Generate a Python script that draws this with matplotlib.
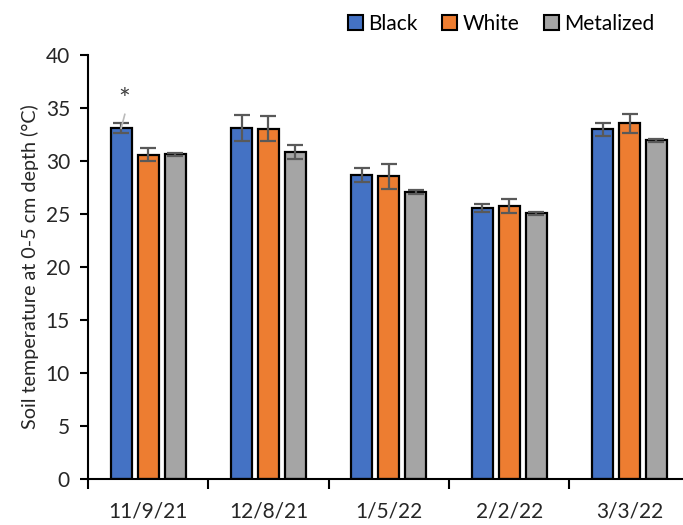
import numpy as np
from matplotlib import pyplot as plt
from matplotlib.patches import Patch
from matplotlib.ticker import FixedLocator

dates = ['11/9/21', '12/8/21', '1/5/22', '2/2/22', '3/3/22']
treatments = ['Black', 'White', 'Metalized']
black = [33.1, 33.1, 28.65, 25.55, 33.0]
white = [30.6, 33.05, 28.55, 25.75, 33.55]
metalized = [30.65, 30.85, 27.1, 25.05, 31.95]
black_err = [0.45, 1.2, 0.65, 0.35, 0.6]
white_err = [0.6, 1.15, 1.15, 0.7, 0.9]
metalized_err = [0.15, 0.7, 0.2, 0.15, 0.15]
colors = ['#4472C4', '#ED7D31', '#A5A5A5']

plt.rcParams['font.family'] = ['Lato', 'DejaVu Sans']

fig = plt.figure(figsize=(6.83, 5.25), dpi=100)
ax = fig.add_axes([0.1288, 0.0876, 0.881, 0.8076])

x = np.arange(len(dates))
step = 0.224
width = 0.175
series = [black, white, metalized]
errs = [black_err, white_err, metalized_err]
for i, (vals, err, c) in enumerate(zip(series, errs, colors)):
    ax.bar(x + (i - 1) * step, vals, width, color=c, edgecolor='black',
           linewidth=1.6, zorder=2)
    ax.errorbar(x + (i - 1) * step, vals, yerr=err, fmt='none',
                ecolor='#595959', elinewidth=1.6, capsize=5.5, capthick=1.6,
                zorder=3)

# significance mark on the first date
ax.plot([x[0] - step, x[0] - step + 0.03], [black[0], black[0] + 1.3],
        color='#BBBBBB', lw=1.2, zorder=4)
ax.text(x[0] - step + 0.025, black[0] + 2.6, '*', ha='center', va='center',
        fontsize=20, color='#404040')

ax.set_xlim(-0.5, 4.5)
ax.set_ylim(0, 40)
ax.set_yticks(range(0, 41, 5))
ax.set_xticks(x)
ax.set_xticklabels(dates)
ax.xaxis.set_minor_locator(FixedLocator(np.arange(-0.5, 5, 1)))
ax.tick_params(axis='x', which='major', length=0, labelsize=15, pad=16,
               labelcolor='#262626')
ax.tick_params(axis='x', which='minor', length=7, width=1.5, direction='out')
ax.tick_params(axis='y', length=6, width=1.5, labelsize=15, pad=7,
               labelcolor='#262626')
ax.spines['top'].set_visible(False)
ax.spines['right'].set_visible(False)
ax.spines['left'].set_linewidth(1.5)
ax.spines['bottom'].set_linewidth(1.5)
ax.set_ylabel('Soil temperature at 0-5 cm depth (°C)', fontsize=14.2,
              color='#262626', labelpad=5)

handles = [Patch(facecolor=c, edgecolor='black', linewidth=1.5) for c in colors]
fig.legend(handles, treatments, loc='upper right', bbox_to_anchor=(0.985, 1.01),
           ncol=3, frameon=False, fontsize=15, handlelength=0.7,
           handleheight=0.7, handletextpad=0.25, columnspacing=1.2)

fig.savefig('out.png', dpi=100)
